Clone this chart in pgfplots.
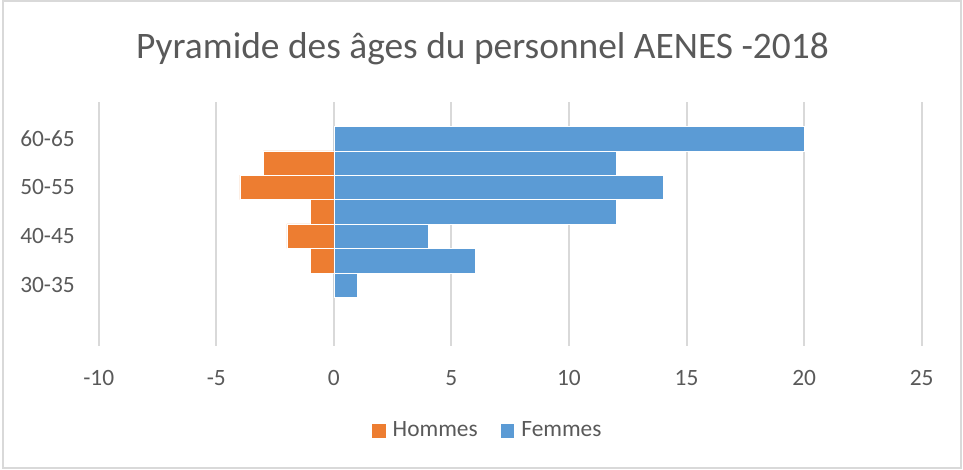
\documentclass[border=0pt]{standalone}
\usepackage{pgfplots}
\pgfplotsset{compat=1.18}
\usepackage{fontspec}
\setmainfont{Carlito}

\definecolor{hommes}{HTML}{ED7D31}
\definecolor{femmes}{HTML}{5B9BD5}
\definecolor{gridgray}{HTML}{D9D9D9}
\definecolor{txtgray}{HTML}{595959}

\begin{document}
\begin{tikzpicture}
% page frame, one picture pixel = 0.385pt
\path[use as bounding box] (-38.0pt,-47.74pt) rectangle (332.76pt,133.21pt);
\draw[gridgray, line width=0.75pt] (-36.84pt,-47.09pt) rectangle (331.99pt,132.83pt);

\begin{axis}[
  at={(0pt,0pt)}, anchor=south west,
  scale only axis, width=316.86pt, height=93.94pt,
  xbar, bar width=1, bar shift=0pt,
  xmin=-10, xmax=25,
  ymin=-0.5, ymax=9.5,
  xtick={-10,-5,0,5,10,15,20,25},
  xticklabels={-10,-5,0,5,10,15,20,25},
  ytick={2,4,6,8},
  yticklabels={30-35,40-45,50-55,60-65},
  axis line style={draw=none},
  major tick length=0pt,
  xmajorgrids, grid style={gridgray, line width=0.75pt},
  tick label style={font=\fontsize{9}{11}\selectfont, text=txtgray},
  xticklabel style={anchor=base, inner sep=0pt, yshift=-15.28pt},
  yticklabel style={anchor=east, inner sep=0pt, xshift=-9.0pt},
  legend columns=2,
  legend style={draw=none, fill=none, at={(0.4724,-0.3476)}, anchor=center,
    font=\fontsize{9}{11}\selectfont, text=txtgray,
    nodes={inner sep=0.5pt},
    /tikz/every odd column/.append style={column sep=2.2pt},
    /tikz/every even column/.append style={column sep=8.4pt}},
  legend image code/.code={\fill[#1, draw=none] (0pt,-2.6pt) rectangle (5.2pt,2.6pt);},
]
\addplot[fill=hommes, draw=white, line width=0.2pt] coordinates {
  (-3,7) (-4,6) (-1,5) (-2,4) (-1,3)
};
\addlegendentry{Hommes}
\addplot[fill=femmes, draw=white, line width=0.2pt] coordinates {
  (20,8) (12,7) (14,6) (12,5) (4,4) (6,3) (1,2)
};
\addlegendentry{Femmes}
\end{axis}

\node[anchor=base, text=txtgray, font=\fontsize{14.4}{17}\selectfont, inner sep=0pt]
  at (147.76pt,110.76pt) {Pyramide des âges du personnel AENES -2018};
\end{tikzpicture}
\end{document}
